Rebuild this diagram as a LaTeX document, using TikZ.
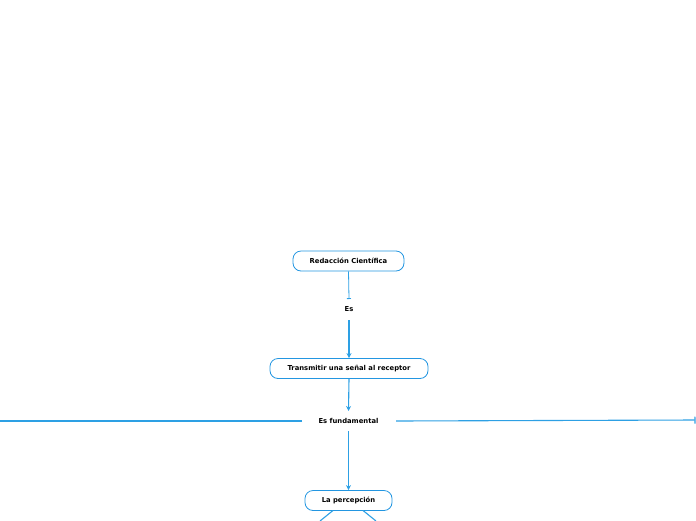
\documentclass[tikz,border=0pt]{standalone}
\usepackage{fontspec}
\setmainfont{DejaVu Sans}
\usetikzlibrary{arrows.meta}
\definecolor{lblue}{RGB}{45,160,228}
\definecolor{bblue}{RGB}{35,150,225}
\begin{document}
\begin{tikzpicture}[x=1pt,y=-1pt,
  box/.style={draw=bblue,line width=0.8pt,rounded corners=8pt,minimum height=20pt,inner sep=0pt,font=\fontsize{6.8}{8}\selectfont\bfseries},
  lbl/.style={inner sep=0pt,font=\fontsize{6.8}{8}\selectfont\bfseries},
  conn/.style={draw=lblue,line width=1.1pt,-{Stealth[length=5pt,width=5pt]}},
  plain/.style={draw=lblue,line width=1.1pt}]
\useasboundingbox (0,0) rectangle (696,520);
\node[box,minimum width=111pt] (rc) at (348.5,261) {Redacción Científica};
\node[lbl] (es) at (349,309) {Es};
\node[box,minimum width=158pt] (tr) at (349,368.5) {Transmitir una señal al receptor};
\node[lbl] (ef) at (348.5,421) {Es fundamental};
\node[box,minimum width=87pt] (lp) at (348.5,500.5) {La percepción};
\coordinate (l0) at (0,421);
\coordinate (l1) at (302,421);
\coordinate (r0) at (396,421);
\coordinate (r1) at (695.5,420);
\coordinate (d1) at (320,521);
\coordinate (d2) at (376,521);
\coordinate (lpa) at (333,510.5);
\coordinate (lpb) at (363,510.5);
\coordinate (esT) at (349,299);
\coordinate (esB) at (349,320);
\coordinate (efT) at (348.5,411);
\coordinate (efB) at (348.5,431);
\draw[draw=lblue,line width=0.8pt,-{Bar[width=4pt]}] (rc.south) -- (esT);
\draw[conn] (esB) -- (tr.north);
\draw[conn] (tr.south) -- (efT);
\draw[conn] (efB) -- (lp.north);
\draw[plain] (l1) -- (l0);
\draw[draw=lblue,line width=1.1pt,-{Bar[width=7pt]}] (r0) -- (r1);
\draw[plain] (lpa) -- (d1);
\draw[plain] (lpb) -- (d2);
\end{tikzpicture}
\end{document}
